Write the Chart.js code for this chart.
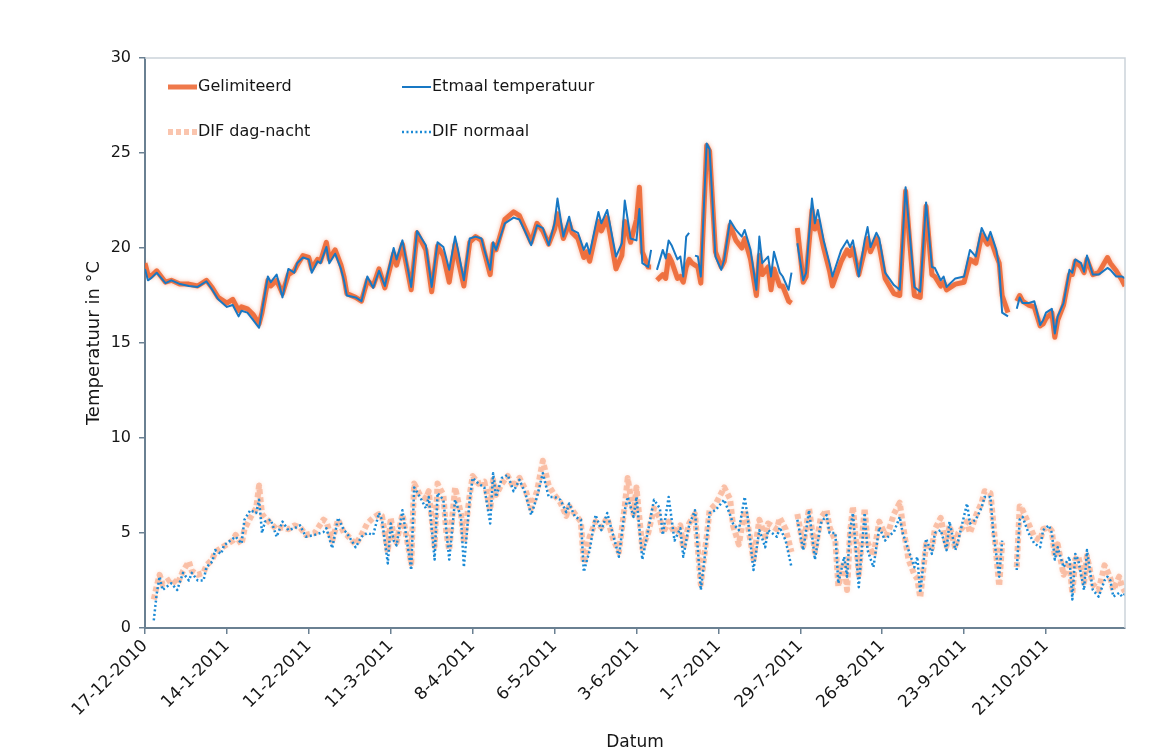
<!DOCTYPE html>
<html><head><meta charset="utf-8">
<script src="https://cdn.jsdelivr.net/npm/chart.js@4.4.1/dist/chart.umd.min.js"></script>
<style>html,body{margin:0;padding:0;background:#fff;}#wrap{position:relative;width:1174px;height:754px;}</style>
</head><body><div id="wrap"><canvas id="c" width="1174" height="754"></canvas></div>
<script>
const tickLabels = ['17-12-2010','14-1-2011','11-2-2011','11-3-2011','8-4-2011','6-5-2011','3-6-2011','1-7-2011','29-7-2011','26-8-2011','23-9-2011','21-10-2011'];
const tickDays = [0,28,56,84,112,140,168,196,224,252,280,308];
const xTitle = 'Datum';
const yTitle = 'Temperatuur in °C';
const seriesNames = ['Gelimiteerd','Etmaal temperatuur','DIF dag-nacht','DIF normaal'];

const etmaalDays = [0,1,2,4,7,9,12,15,18,21,23,25,28,30,32,33,35,37,39,40,42,43,45,47,49,51,52,54,56,57,59,60,62,63,65,67,68,69,72,74,76,78,80,82,85,86,88,91,93,96,98,100,102,104,106,107,109,111,113,115,116,118,119,120,123,126,128,130,132,134,136,138,140,141,143,145,146,148,150,151,152,155,156,158,161,163,164,166,168,169,170,172,173,174,175,177,178,179,180,182,183,184,185,186,187,188,189,190,192,193,195,197,198,200,202,204,205,207,209,210,211,213,214,215,217,218,220,221,222,223,225,226,228,229,230,232,234,235,238,240,241,242,244,246,247,248,250,251,253,256,258,260,262,263,265,267,269,270,272,273,274,277,280,282,284,286,288,289,291,292,293,295,296,298,299,300,302,304,306,307,308,310,311,312,314,316,317,318,320,321,322,324,326,329,330,332,334,335];
const etmaal = [18.9,18.3,18.4,18.7,18.15,18.3,18.1,18.0,17.95,18.25,17.8,17.3,16.9,17.0,16.4,16.7,16.6,16.2,15.8,16.7,18.5,18.2,18.6,17.4,18.9,18.7,19.2,19.5,19.4,18.7,19.3,19.2,20.05,19.2,19.7,18.9,18.3,17.5,17.4,17.2,18.5,17.9,18.8,18.0,20.0,19.4,20.4,17.95,20.9,20.15,17.95,20.3,20.05,18.85,20.6,19.9,18.3,20.5,20.6,20.5,19.9,18.85,20.3,19.9,21.3,21.6,21.5,20.85,20.15,21.2,21.05,20.15,21.3,22.6,20.6,21.65,20.95,20.8,19.9,20.25,19.7,21.9,21.3,22.0,19.55,20.25,22.5,20.5,20.4,22.05,19.2,19.0,19.9,null,18.85,19.9,19.45,20.4,20.15,19.4,19.55,18.5,20.6,20.8,null,19.6,19.55,18.5,25.5,25.2,19.55,18.85,19.4,21.45,20.95,20.6,20.95,19.9,17.8,20.6,19.2,19.55,18.5,19.8,18.7,18.5,17.8,18.7,null,20.25,18.3,18.7,22.6,21.3,22.0,20.4,19.2,18.5,19.9,20.4,20.05,20.4,18.5,20.4,21.1,20.05,20.8,20.5,18.7,18.05,17.8,23.2,19.7,17.95,17.7,22.4,19.0,18.95,18.3,18.5,17.95,18.4,18.5,19.9,19.55,21.05,20.4,20.85,19.9,19.0,16.6,16.4,null,16.8,17.4,17.1,17.1,17.2,15.95,16.2,16.6,16.8,15.5,16.4,17.1,18.85,18.7,19.4,19.2,18.75,19.6,18.6,18.6,18.95,18.85,18.5,18.5,18.4];
const gelimiteerd = [19.2,18.6,18.5,18.8,18.2,18.3,18.1,18.1,18.0,18.3,17.9,17.4,17.1,17.3,16.7,16.9,16.8,16.5,16.0,16.6,18.3,18.0,18.3,17.6,18.6,18.8,19.1,19.6,19.5,18.9,19.4,19.3,20.3,19.4,19.9,19.1,18.5,17.6,17.4,17.2,18.3,18.0,18.9,17.9,19.7,19.1,20.2,17.8,20.8,19.9,17.7,20.1,19.6,18.2,20.2,19.4,18.0,20.3,20.6,20.4,19.8,18.6,20.2,19.9,21.5,21.9,21.7,21.0,20.3,21.3,20.9,20.2,21.0,21.8,20.5,21.3,20.8,20.5,19.5,19.8,19.3,21.4,20.9,21.6,18.9,19.6,21.4,20.3,21.5,23.2,19.8,19.0,19.0,null,18.3,18.6,18.4,19.6,19.3,18.4,18.5,18.2,19.0,19.4,19.2,19.1,19.0,18.15,25.4,25.1,19.8,19.0,19.3,21.2,20.4,20.0,20.5,19.4,17.5,19.6,18.6,19.0,17.8,18.9,18.0,18.0,17.2,17.1,null,21.05,18.2,18.5,22.0,21.0,21.4,20.0,18.8,18.0,19.3,19.9,19.6,20.0,18.6,19.9,20.5,19.8,20.5,20.1,18.4,17.6,17.5,23.0,19.2,17.5,17.4,22.2,18.6,18.5,18.0,18.2,17.8,18.1,18.2,19.4,19.2,20.7,20.2,20.5,19.6,19.2,17.5,16.6,null,17.2,17.5,17.2,17.0,16.9,15.9,16.0,16.3,16.6,15.3,16.2,17.0,18.6,18.6,19.3,19.0,18.7,19.4,18.6,18.7,19.5,19.2,18.8,18.3,18.0];

const difDays = [3,4,5,6,9,11,13,15,16,18,20,21,23,24,26,27,30,31,33,34,36,38,39,40,41,43,45,47,49,51,53,55,58,61,62,64,66,68,69,72,74,76,78,80,81,83,84,85,86,88,91,92,94,96,97,99,100,102,103,104,106,108,109,111,112,114,116,118,119,120,122,124,126,128,130,132,134,136,138,140,142,144,145,147,149,150,152,154,156,158,160,162,164,165,167,168,170,172,174,176,177,179,181,183,184,186,188,190,192,193,195,198,200,201,203,205,206,208,210,212,213,216,217,219,221,222,223,225,227,229,231,233,234,236,237,239,240,241,242,244,246,247,249,251,253,254,256,258,259,261,263,264,265,267,269,270,272,274,275,277,278,281,282,284,286,287,289,290,292,293,295,298,299,300,302,304,306,307,309,310,311,312,314,316,317,318,319,321,322,324,326,328,329,330,331,333,334,335];
const difNormaal = [0.4,1.8,2.7,2.0,2.35,2.0,2.9,2.5,2.9,2.5,2.5,3.2,3.5,4.1,3.9,4.35,4.7,4.8,4.45,5.7,6.2,6.05,6.75,5.0,5.6,5.7,4.8,5.6,5.15,5.25,5.4,4.8,4.9,5.05,5.25,4.2,5.8,5.15,5.0,4.25,4.8,5.0,4.9,6.05,5.7,3.4,5.5,4.6,4.35,6.2,3.05,7.4,6.9,6.3,6.9,3.6,7.1,6.75,5.15,3.6,6.75,5.85,3.2,6.75,7.9,7.6,7.4,5.5,8.15,6.9,7.9,8.05,7.2,7.8,7.1,5.95,6.9,8.15,6.9,6.9,6.75,6.1,6.55,5.85,5.7,2.95,4.1,5.95,5.15,6.05,4.9,3.75,6.2,6.9,5.85,6.9,3.6,5.15,6.75,6.3,4.9,6.9,4.6,5.25,3.75,5.4,6.2,2.0,4.6,6.05,6.2,6.75,5.95,5.5,5.15,6.9,5.85,3.05,5.15,4.25,5.15,4.8,5.3,4.6,3.2,null,5.7,4.1,6.2,3.6,5.5,5.95,5.0,5.0,2.35,3.75,2.7,5.15,6.05,2.15,6.05,4.1,3.2,5.3,4.6,4.8,5.05,5.85,5.0,4.1,3.2,3.75,1.85,4.7,3.9,5.0,5.15,4.1,5.6,4.1,4.6,6.55,5.5,5.7,6.35,6.9,6.9,5.0,2.7,4.6,null,3.05,5.7,5.85,5.0,4.45,4.25,5.15,5.4,5.0,3.6,4.25,3.2,3.75,1.5,3.9,3.6,2.0,4.1,2.0,1.65,2.5,2.7,2.5,1.65,1.85,1.65,1.8];
const difDagNacht = [1.5,2.2,2.8,2.3,2.6,2.3,3.0,3.5,3.0,2.8,2.9,3.3,3.6,4.0,4.2,4.3,4.6,4.9,4.4,5.2,5.8,6.3,7.5,6.0,5.8,5.5,5.2,5.3,5.2,5.4,5.3,4.9,5.0,5.7,5.6,4.6,5.7,5.0,4.9,4.4,4.9,5.5,5.8,6.0,5.9,4.0,5.8,4.8,4.5,6.0,3.4,7.6,7.0,6.8,7.2,4.3,7.6,7.0,5.0,4.1,7.4,6.0,4.5,7.0,8.0,7.6,7.7,6.2,7.8,7.0,7.6,8.0,7.4,7.9,7.3,6.3,7.2,8.8,7.5,7.0,6.6,5.9,6.4,6.0,5.6,3.4,4.8,5.6,5.3,5.8,4.7,4.0,6.4,7.9,6.0,7.4,4.2,5.0,6.3,5.8,5.0,5.6,5.0,5.4,4.2,5.5,6.0,2.3,4.8,6.2,6.5,7.4,6.8,5.4,4.4,6.2,5.5,3.6,5.7,4.8,5.5,5.2,5.8,5.2,4.0,null,6.0,4.3,6.3,4.0,5.8,6.2,5.3,4.6,2.2,3.5,2.0,5.0,6.4,2.8,6.3,4.5,3.8,5.6,4.9,5.0,6.0,6.6,5.5,3.6,2.8,2.6,1.6,4.4,4.2,5.2,5.8,4.3,5.4,4.2,5.0,5.6,5.0,5.9,6.6,7.2,7.1,5.5,2.2,4.5,null,3.2,6.4,6.2,5.5,4.8,4.6,5.2,5.3,5.1,3.8,4.4,2.8,3.5,1.8,3.6,3.8,2.4,3.8,2.3,2.0,3.3,3.0,2.6,2.0,2.7,2.2,1.9];

function pts(days, vals) { return days.map((d, i) => ({ x: d, y: vals[i] })); }

const ORANGE = 'rgba(236,98,44,0.85)';
const SALMON = 'rgba(246,158,120,0.6)';
const BLUE = '#1878c4';
const BLUE_DOT = '#1a8ad6';
const AXIS = '#6a8092';
const FONT = 'DejaVu Sans';
const TEXT = '#161616';

const glowPlugin = {
  id: 'glow',
  beforeDatasetDraw(chart, args) {
    const ds = chart.data.datasets[args.index];
    if (ds.glow) { chart.ctx.shadowColor = ds.glow; chart.ctx.shadowBlur = 4; }
  },
  afterDatasetDraw(chart) { chart.ctx.shadowColor = 'rgba(0,0,0,0)'; chart.ctx.shadowBlur = 0; }
};

const framePlugin = {
  id: 'frame',
  afterDraw(chart) {
    const { ctx, chartArea: a } = chart;
    ctx.save();
    ctx.strokeStyle = '#ccd3da';
    ctx.lineWidth = 1.5;
    ctx.beginPath();
    ctx.moveTo(a.left, a.top); ctx.lineTo(a.right, a.top); ctx.lineTo(a.right, a.bottom);
    ctx.stroke();
    const items = [
      { name: seriesNames[0], x: 168, y: 87, color: ORANGE, w: 5, dash: [] },
      { name: seriesNames[1], x: 402, y: 87, color: BLUE, w: 2, dash: [] },
      { name: seriesNames[2], x: 168, y: 132, color: SALMON, w: 6, dash: [5, 3] },
      { name: seriesNames[3], x: 402, y: 132, color: BLUE_DOT, w: 2.5, dash: [2, 2.5] }
    ];
    ctx.font = '16px "' + FONT + '"';
    ctx.textBaseline = 'middle';
    ctx.textAlign = 'left';
    items.forEach(it => {
      ctx.strokeStyle = it.color; ctx.lineWidth = it.w; ctx.setLineDash(it.dash);
      ctx.beginPath(); ctx.moveTo(it.x, it.y); ctx.lineTo(it.x + 29, it.y); ctx.stroke();
      ctx.setLineDash([]);
      ctx.fillStyle = TEXT;
      ctx.fillText(it.name, it.x + 30, it.y);
    });
    ctx.restore();
  }
};

new Chart(document.getElementById('c'), {
  type: 'line',
  data: {
    datasets: [
      { label: seriesNames[1], data: pts(etmaalDays, etmaal), borderColor: BLUE, borderWidth: 2, pointRadius: 0, tension: 0, spanGaps: false, borderJoinStyle: 'round' },
      { label: seriesNames[3], data: pts(difDays, difNormaal), borderColor: BLUE_DOT, borderWidth: 2.5, borderDash: [2, 2.5], pointRadius: 0, tension: 0, spanGaps: false, borderJoinStyle: 'round' },
      { label: seriesNames[0], data: pts(etmaalDays, gelimiteerd), borderColor: ORANGE, borderWidth: 5, pointRadius: 0, tension: 0, spanGaps: false, borderJoinStyle: 'round', glow: 'rgba(240,110,60,0.6)' },
      { label: seriesNames[2], data: pts(difDays, difDagNacht), borderColor: SALMON, borderWidth: 6, borderDash: [5, 3], pointRadius: 0, tension: 0, spanGaps: false, borderJoinStyle: 'round', glow: 'rgba(246,158,120,0.4)' }
    ]
  },
  options: {
    responsive: false,
    animation: false,
    events: [],
    layout: { padding: { top: 58, right: 49, left: 0, bottom: 0 } },
    plugins: { legend: { display: false }, tooltip: { enabled: false } },
    scales: {
      x: {
        type: 'linear', min: 0, max: 335,
        afterBuildTicks: s => { s.ticks = tickDays.map(v => ({ value: v })); },
        afterFit: s => { s.height = 126; },
        ticks: { autoSkip: false, maxRotation: 45, minRotation: 45, padding: 2,
          callback: (v, i) => tickLabels[i], font: { family: FONT, size: 17 }, color: TEXT },
        grid: { drawOnChartArea: false, tickLength: 6, color: AXIS, lineWidth: 1.5 },
        border: { color: AXIS, width: 2 },
        title: { display: true, text: xTitle, font: { family: FONT, size: 17 }, color: TEXT, padding: { top: 0, bottom: 1 } }
      },
      y: {
        min: 0, max: 30,
        afterFit: s => { s.width = 145; },
        ticks: { stepSize: 5, padding: 8, font: { family: FONT, size: 16 }, color: TEXT },
        grid: { drawOnChartArea: false, tickLength: 6, color: AXIS, lineWidth: 1.5 },
        border: { color: AXIS, width: 2 },
        title: { display: true, text: yTitle, font: { family: FONT, size: 18 }, color: TEXT, padding: { top: 84, bottom: 0 } }
      }
    }
  },
  plugins: [glowPlugin, framePlugin]
});
</script></body></html>
